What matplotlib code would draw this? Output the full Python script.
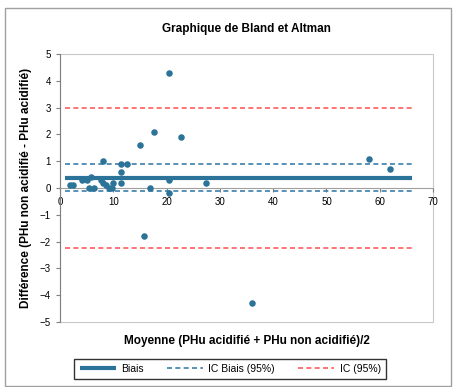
import matplotlib
matplotlib.use("Agg")
import matplotlib.pyplot as plt
from matplotlib.patches import Rectangle

# mean of the two measures and their difference
moyenne = [1.9, 2.4, 4.2, 5.1, 5.9, 5.5, 6.4, 7.7, 8.0, 8.1, 8.6, 9.1, 9.7, 10.0,
           11.4, 11.4, 11.5, 12.5, 15.0, 15.8, 16.9, 17.7, 20.4, 20.5, 20.4, 22.7,
           27.4, 36.1, 58.0, 61.9]
difference = [0.1, 0.1, 0.3, 0.3, 0.4, 0.0, 0.0, 0.3, 1.0, 0.2, 0.1, 0.0, 0.0, 0.2,
              0.9, 0.6, 0.2, 0.9, 1.6, -1.8, 0.0, 2.1, 4.3, 0.3, -0.2, 1.9,
              0.2, -4.3, 1.1, 0.7]

biais = 0.38
ic_biais = [-0.13, 0.89]
ic = [-2.25, 3.0]
line_x = [1.0, 66.0]

x_ticks = [0, 10, 20, 30, 40, 50, 60, 70]
y_ticks = [-5, -4, -3, -2, -1, 0, 1, 2, 3, 4, 5]

BLUE = "#2B7398"
DASH_BLUE = "#3B7FAA"
RED = "#FF5B5B"

plt.rcParams["font.family"] = ["Liberation Sans", "DejaVu Sans"]

fig = plt.figure(figsize=(4.53, 3.87), dpi=100)
ax = fig.add_axes([0.1325, 0.168, 0.8234, 0.6925])

ax.plot(line_x, [biais, biais], color=BLUE, linewidth=3, solid_capstyle="butt",
        label="Biais", zorder=2)
for v, lab in zip(ic_biais, ["IC Biais (95%)", None]):
    ax.plot(line_x, [v, v], color=DASH_BLUE, linewidth=1.2, dashes=(3, 2),
            label=lab, zorder=2)
for v, lab in zip(ic, ["IC (95%)", None]):
    ax.plot(line_x, [v, v], color=RED, linewidth=1.2, dashes=(3, 2),
            label=lab, zorder=2)

ax.scatter(moyenne, difference, s=22, color=BLUE, zorder=3, linewidths=0)

ax.set_xlim(0, 70)
ax.set_ylim(-5, 5)
ax.set_xticks(x_ticks)
ax.set_yticks(y_ticks)
ax.tick_params(labelsize=7, length=3, color="#808080", width=0.8)

ax.spines["bottom"].set_position(("data", 0))
ax.spines["bottom"].set_color("#A0A0A0")
ax.spines["left"].set_color("#808080")
ax.spines[["top", "right"]].set_visible(False)
ax.add_patch(Rectangle((0, 0), 1, 1, transform=ax.transAxes, fill=False,
                       edgecolor="#C8C8C8", linewidth=0.8, zorder=0, clip_on=False))

ax.set_title("Graphique de Bland et Altman", fontsize=8.5, fontweight="bold", pad=16)
ax.set_ylabel("Différence (PHu non acidifié - PHu acidifié)", fontsize=8.5,
              fontweight="bold", labelpad=6)
ax.set_xlabel("Moyenne (PHu acidifié + PHu non acidifié)/2", fontsize=8.5,
              fontweight="bold")
ax.xaxis.set_label_coords(0.5, -0.05)

leg = fig.legend(loc="center", bbox_to_anchor=(0.508, 0.047), ncol=3, fontsize=7.5,
                 fancybox=False, edgecolor="black", handlelength=3.5,
                 handletextpad=0.5, columnspacing=2.2, borderpad=0.5)
leg.get_frame().set_linewidth(1.0)

# outer chart frame
fig.add_artist(Rectangle((0.011, 0.003), 0.985, 0.976, transform=fig.transFigure,
                         fill=False, edgecolor="#A0A0A0", linewidth=1.0))

fig.savefig("out.png", dpi=100)
